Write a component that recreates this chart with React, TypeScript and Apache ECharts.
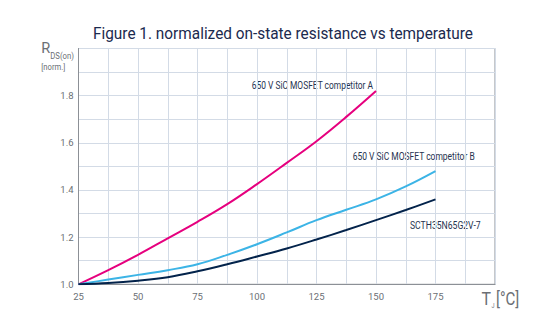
import React, { useEffect, useRef } from "react";
import * as echarts from "echarts";

const temps = [25, 37.5, 50, 62.5, 75, 87.5, 100, 112.5, 125, 137.5, 150, 162.5, 175];
const competitorA = [1.0, 1.06, 1.125, 1.195, 1.265, 1.34, 1.425, 1.515, 1.607, 1.71, 1.82];
const competitorB = [1.0, 1.02, 1.04, 1.06, 1.085, 1.125, 1.17, 1.22, 1.272, 1.316, 1.36, 1.415, 1.48];
const scth = [1.0, 1.005, 1.015, 1.03, 1.055, 1.085, 1.118, 1.152, 1.19, 1.23, 1.272, 1.315, 1.36];
const xTickLabels = [25, 50, 75, 100, 125, 150, 175];
const yTickLabels = [1.0, 1.2, 1.4, 1.6, 1.8];
const seriesNames = ["650 V SiC MOSFET competitor A", "650 V SiC MOSFET competitor B", "SCTH35N65G2V-7"];
const titleText = "Figure 1. normalized on-state resistance vs temperature";

const FONT = "Roboto";
const NAVY = "#1b2a4e";
const LABEL = "#27334f";
const MAGENTA = "#e6007e";
const BLUE = "#3cb4e6";
const DARK = "#03234b";
const GRAY = "#6b6f75";

const pair = (vals: number[]) => vals.map((v, i) => [temps[i], v]);

let measureCtx: CanvasRenderingContext2D | null = null;
function measure(text: string, size: number): number {
  if (!measureCtx) measureCtx = document.createElement("canvas").getContext("2d");
  measureCtx!.font = `${size}px ${FONT}`;
  return measureCtx!.measureText(text).width;
}

// fitted text: left edge x, vertical middle y, width w
function fitted(text: string, size: number, x: number, y: number, w: number, fill: string) {
  const sx = w / measure(text, size);
  return {
    type: "text",
    x,
    y,
    scaleX: sx,
    silent: true,
    style: {
      text,
      fontFamily: FONT,
      fontSize: size,
      fill,
      align: "left",
      verticalAlign: "middle",
    },
  };
}

export default function App() {
  const ref = useRef<HTMLDivElement>(null);
  useEffect(() => {
    document.body.style.margin = "0";
    const chart = echarts.init(ref.current!, undefined, { renderer: "svg" });
    chart.setOption({
      animation: false,
      backgroundColor: "#ffffff",
      grid: {
        left: 78.5,
        top: 48.5,
        width: 416.5,
        height: 235.8,
        show: true,
        borderColor: "#8c9096",
        borderWidth: 1,
        backgroundColor: "transparent",
      },
      xAxis: {
        type: "value",
        min: 25,
        max: 200,
        interval: 12.5,
        axisLine: { show: true, lineStyle: { color: "#8c9096", width: 1 } },
        axisTick: { show: false },
        splitLine: { show: true, lineStyle: { color: "#d3dbe6", width: 1 } },
        axisLabel: {
          margin: 7,
          fontFamily: FONT,
          fontSize: 9.5,
          color: GRAY,
          formatter: (v: number) => (xTickLabels.includes(v) ? String(v) : ""),
        },
      },
      yAxis: {
        type: "value",
        min: 1.0,
        max: 2.0,
        interval: 0.1,
        axisLine: { show: true, lineStyle: { color: "#8c9096", width: 1 } },
        axisTick: { show: false },
        splitLine: { show: true, lineStyle: { color: "#d3dbe6", width: 1 } },
        axisLabel: {
          margin: 5,
          fontFamily: FONT,
          fontSize: 9.5,
          color: GRAY,
          formatter: (v: number) => {
            const r = Math.round(v * 10) / 10;
            return yTickLabels.some((t) => Math.abs(t - r) < 1e-6) ? r.toFixed(1) : "";
          },
        },
      },
      series: [
        {
          name: seriesNames[0],
          type: "line",
          data: pair(competitorA),
          smooth: 0.4,
          showSymbol: false,
          lineStyle: { color: MAGENTA, width: 2 },
        },
        {
          name: seriesNames[1],
          type: "line",
          data: pair(competitorB),
          smooth: 0.4,
          showSymbol: false,
          lineStyle: { color: BLUE, width: 2 },
        },
        {
          name: seriesNames[2],
          type: "line",
          data: pair(scth),
          smooth: 0.4,
          showSymbol: false,
          lineStyle: { color: DARK, width: 2 },
        },
      ],
      graphic: [
        fitted(titleText, 16.5, 93, 33.2, 380, NAVY),
        fitted("R", 15, 41.3, 48, 9, GRAY),
        fitted("DS(on)", 8.5, 50.3, 55.8, 23.7, GRAY),
        fitted("[norm.]", 9, 41.3, 66.5, 24, GRAY),
        fitted("T", 18, 481.5, 299, 9.5, GRAY),
        fitted("J", 8, 491.5, 305.5, 3, GRAY),
        fitted("[°C]", 18, 496, 299, 23.3, GRAY),
        fitted(seriesNames[0], 10, 251.7, 85, 121.6, LABEL),
        fitted(seriesNames[1], 10, 352.7, 156.7, 122.3, LABEL),
        fitted(seriesNames[2], 10, 410, 225, 70.7, LABEL),
      ],
    });
    return () => chart.dispose();
  }, []);
  return (
    <div
      ref={ref}
      style={{ position: "absolute", left: 0, top: 0, width: 546, height: 329 }}
    />
  );
}
